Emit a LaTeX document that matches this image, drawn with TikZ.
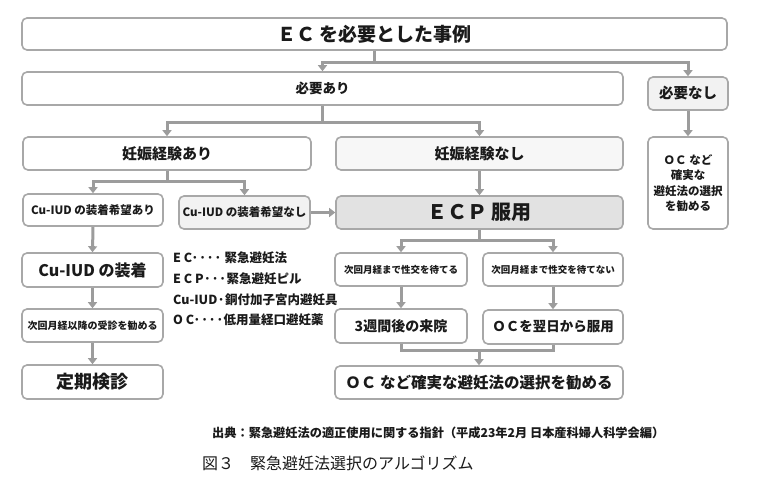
\documentclass[tikz,border=0pt]{standalone}
\usepackage{fontspec}
\setmainfont{Noto Sans CJK JP}
\usetikzlibrary{arrows.meta}

\definecolor{framegray}{HTML}{A8A8A8}
\definecolor{linegray}{HTML}{9C9C9C}
\definecolor{paleA}{HTML}{F2F2F2}
\definecolor{paleB}{HTML}{E2E2E2}
\definecolor{ink}{HTML}{1A1A1A}

\newcommand{\fs}[1]{\fontsize{#1}{#1}\selectfont}

\tikzset{
  box/.style={draw=framegray, line width=1.6pt, rounded corners=5pt, fill=white,
    inner sep=0pt, text=ink, font=\bfseries, align=center},
  conn/.style={draw=linegray, line width=3pt, -{Triangle[width=9pt,length=6pt]}},
  link/.style={draw=linegray, line width=3pt},
}

\begin{document}
\begin{tikzpicture}[x=1pt, y=-1pt]
    \useasboundingbox[fill=white] (0,0) rectangle (763,490);
    % top levels
    \node[box, minimum width=705pt, minimum height=32pt] (ec) at (374.5,34) {\fs{19}ＥＣ を必要とした事例};
    \node[box, minimum width=601pt, minimum height=33pt] (need) at (322.5,88.5) {\fs{13.5}必要あり};
    \node[box, fill=paleA, minimum width=80pt, minimum height=33pt] (noneed) at (688,93.5) {\fs{14.5}必要なし};
    \node[box, minimum width=288pt, minimum height=33pt] (preg) at (167,153.5) {\fs{15}妊娠経験あり};
    \node[box, fill=paleA!60, minimum width=287pt, minimum height=33pt] (nopreg) at (479.5,153.5) {\fs{15}妊娠経験なし};
    \node[box, minimum width=80pt, minimum height=92pt, font=\bfseries\fontsize{11.5}{15.5}\selectfont] (ocside) at (688,183)
        {ＯＣ など\\確実な\\避妊法の選択\\を勧める};
    % Cu-IUD side
    \node[box, minimum width=140pt, minimum height=32pt] (wish) at (93,210) {\fs{11.5}Cu-IUD の装着希望あり};
    \node[box, fill=paleA, minimum width=131pt, minimum height=33pt] (nowish) at (244.5,212.5) {\fs{11.5}Cu-IUD の装着希望なし};
    \node[box, minimum width=141pt, minimum height=34pt] (iud) at (92.5,270) {\fs{16}Cu-IUD の装着};
    \node[box, minimum width=141pt, minimum height=33pt] (visit) at (92.5,325.5) {\fs{10}次回月経以降の受診を勧める};
    \node[box, minimum width=141pt, minimum height=34pt] (check) at (92.5,382) {\fs{18}定期検診};
    % ECP side
    \node[box, fill=paleB, minimum width=287pt, minimum height=33pt] (ecp) at (479.5,212.5) {\fs{20}ＥＣＰ 服用};
    \node[box, minimum width=132pt, minimum height=33pt] (canwait) at (401,269.5) {\fs{9.5}次回月経まで性交を待てる};
    \node[box, minimum width=140pt, minimum height=33pt] (cannot) at (553,269.5) {\fs{9.5}次回月経まで性交を待てない};
    \node[box, minimum width=132pt, minimum height=34pt] (wk3) at (401,326) {\fs{14}3週間後の来院};
    \node[box, minimum width=140pt, minimum height=34pt] (ocnext) at (553,327) {\fs{13.5}ＯＣを翌日から服用};
    \node[box, minimum width=288pt, minimum height=33pt] (final) at (479,382.5) {\fs{15.5}ＯＣ など確実な避妊法の選択を勧める};
    % legend and notes
    \node[anchor=west, align=left, inner sep=0pt, text=ink, font=\bfseries\fontsize{12.5}{20.7}\selectfont] (legend) at (173,289)
        {E C···· 緊急避妊法\\E C P···緊急避妊ピル\\Cu-IUD·銅付加子宮内避妊具\\O C····低用量経口避妊薬};
    \node[anchor=west, inner sep=0pt, text=ink, font=\bfseries\fs{12.2}] (source) at (212,433)
        {出典：緊急避妊法の適正使用に関する指針（平成23年2月 日本産科婦人科学会編）};
    \node[anchor=west, inner sep=0pt, text=ink, font=\fs{16}] (caption) at (202,463)
        {図３　緊急避妊法選択のアルゴリズム};
    % connectors
    \draw[conn] (ec.south) -- ++(0,12) -| (need.north);
    \draw[conn] (ec.south) -- ++(0,12) -| (noneed.north);
    \draw[conn] (need.south) -- ++(0,17) -| (preg.north);
    \draw[conn] (need.south) -- ++(0,17) -| (nopreg.north);
    \draw[conn] (noneed.south) -- (ocside.north);
    \draw[conn] (preg.south) -- ++(0,11) -| (wish.north);
    \draw[conn] (preg.south) -- ++(0,11) -| (nowish.north);
    \draw[conn] (nopreg.south) -- (ecp.north);
    \draw[conn] (nowish.east) -- (ecp.west);
    \draw[conn] (wish.south) -- (iud.north);
    \draw[conn] (iud.south) -- (visit.north);
    \draw[conn] (visit.south) -- (check.north);
    \draw[conn] (ecp.south) -- ++(0,11) -| (canwait.north);
    \draw[conn] (ecp.south) -- ++(0,11) -| (cannot.north);
    \draw[conn] (canwait.south) -- (wk3.north);
    \draw[conn] (cannot.south) -- (ocnext.north);
    \draw[link] (wk3.south) -- ++(0,7) coordinate (merge) -| (ocnext.south);
    \draw[conn] (merge -| final.north) -- (final.north);
\end{tikzpicture}
\end{document}
